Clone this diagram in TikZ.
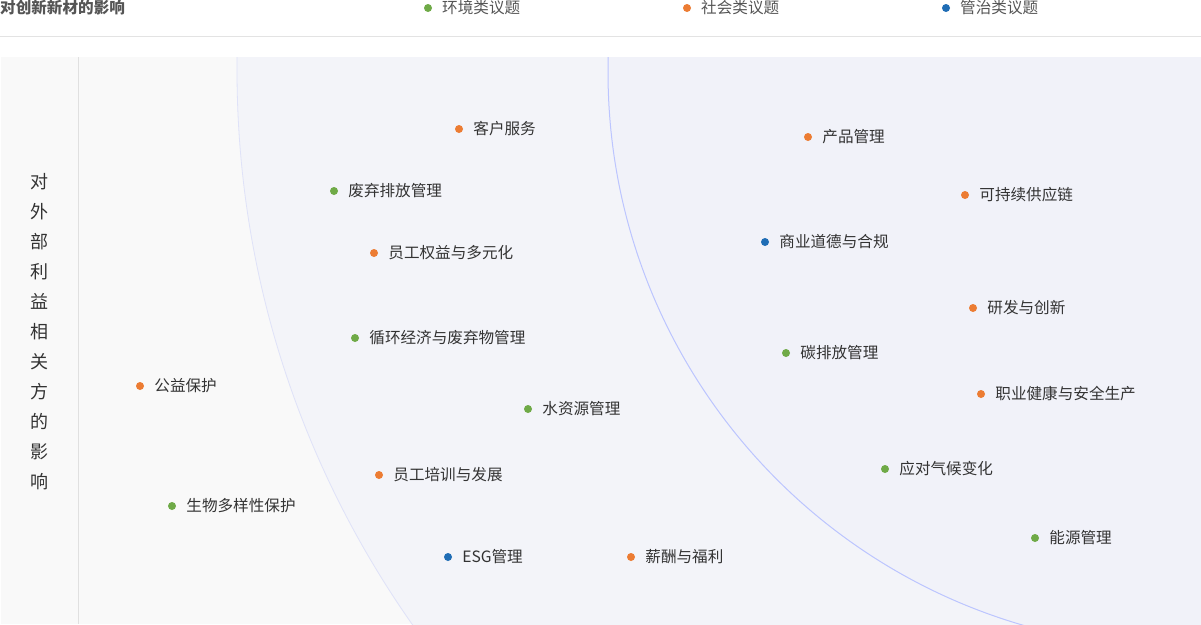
\documentclass[tikz,border=0pt]{standalone}
\usepackage{fontspec}
\setmainfont{Noto Sans CJK SC}
\definecolor{grn}{HTML}{6FAA47}
\definecolor{org}{HTML}{EC7C33}
\definecolor{blu}{HTML}{1F6DB5}
\definecolor{txt}{HTML}{333333}
\definecolor{hdr}{HTML}{555555}
\definecolor{panel}{HTML}{F9F9F9}
\definecolor{outerfill}{HTML}{F3F4F9}
\definecolor{outerline}{HTML}{DFE2F8}
\definecolor{innerlight}{HTML}{F1F2F9}
\definecolor{inneredge}{HTML}{E1E4F7}
\definecolor{innerline}{HTML}{BCC5FF}
\pgfdeclareradialshading{innerglow}{\pgfpoint{0bp}{0bp}}{color(0bp)=(innerlight); color(26bp)=(innerlight); color(50bp)=(inneredge); color(72bp)=(inneredge)}
\tikzset{
  lbl/.style={font=\fontsize{15.6}{18}\selectfont, text=txt, inner sep=0pt},
  item/.style={circle, fill=#1, minimum size=8pt, inner sep=0pt},
  legtxt/.style={font=\fontsize{15.6}{18}\selectfont, text=hdr, inner sep=0pt, anchor=west},
}
\begin{document}
\begin{tikzpicture}[x=1pt,y=-1pt]
\useasboundingbox (0,0) rectangle (1201,624);
\fill[white] (0,0) rectangle (1201,624);
% header
\node[font=\bfseries\fontsize{15.6}{18}\selectfont, text=hdr, inner sep=0pt, anchor=west] (title) at (0,8) {对创新新材的影响};
\node[item=grn] (lg) at (428,8) {};
\node[legtxt] (lgt) at (442,8) {环境类议题};
\node[item=org] (lo) at (687,8) {};
\node[legtxt] (lot) at (701,8) {社会类议题};
\node[item=blu] (lb) at (946,8) {};
\node[legtxt] (lbt) at (960,8) {管治类议题};
\draw[draw=black!11, line width=1pt] (0,36.5) -- (1201,36.5);
% panel
\fill[panel] (1,57) rectangle (1201,624);
\begin{scope}
\clip (1,57) rectangle (1201,624);
\fill[outerfill] (1201,70) circle[radius=964];
\draw[outerline, line width=0.8pt] (1201,70) circle[radius=964];
\shade[shading=innerglow] (1184,72) circle[radius=576];
\draw[innerline, line width=1pt] (1184,72) circle[radius=576];
\end{scope}
\draw[draw=black!12, line width=0.8pt] (78.5,57) -- (78.5,624);
% vertical axis label
\node[font=\fontsize{18}{30}\selectfont, text=txt, align=center, inner sep=0pt] (ylab) at (39,332) {对\\外\\部\\利\\益\\相\\关\\方\\的\\影\\响};
% items
\tikzset{every label/.style={lbl}, label distance=10pt}
\node[item=org, label=right:客户服务] (kh) at (459,129) {};
\node[item=org, label=right:产品管理] (cp) at (808,137) {};
\node[item=grn, label=right:废弃排放管理] (fq) at (334,191) {};
\node[item=org, label=right:可持续供应链] (kc) at (965,195) {};
\node[item=blu, label=right:商业道德与合规] (sy) at (765,242) {};
\node[item=org, label=right:员工权益与多元化] (yq) at (374,253) {};
\node[item=org, label=right:研发与创新] (yf) at (973,308) {};
\node[item=grn, label=right:循环经济与废弃物管理] (xh) at (355,338) {};
\node[item=grn, label=right:碳排放管理] (tp) at (786,353) {};
\node[item=org, label=right:公益保护] (gy) at (140,386) {};
\node[item=org, label=right:职业健康与安全生产] (zy) at (981,394) {};
\node[item=grn, label=right:水资源管理] (sz) at (528,409) {};
\node[item=grn, label=right:应对气候变化] (yd) at (885,469) {};
\node[item=org, label=right:员工培训与发展] (yp) at (379,475) {};
\node[item=grn, label=right:生物多样性保护] (sw) at (172,506) {};
\node[item=grn, label=right:能源管理] (ny) at (1035,538) {};
\node[item=blu, label=right:ESG管理] (esg) at (448,557) {};
\node[item=org, label=right:薪酬与福利] (xc) at (631,557) {};
\end{tikzpicture}
\end{document}
